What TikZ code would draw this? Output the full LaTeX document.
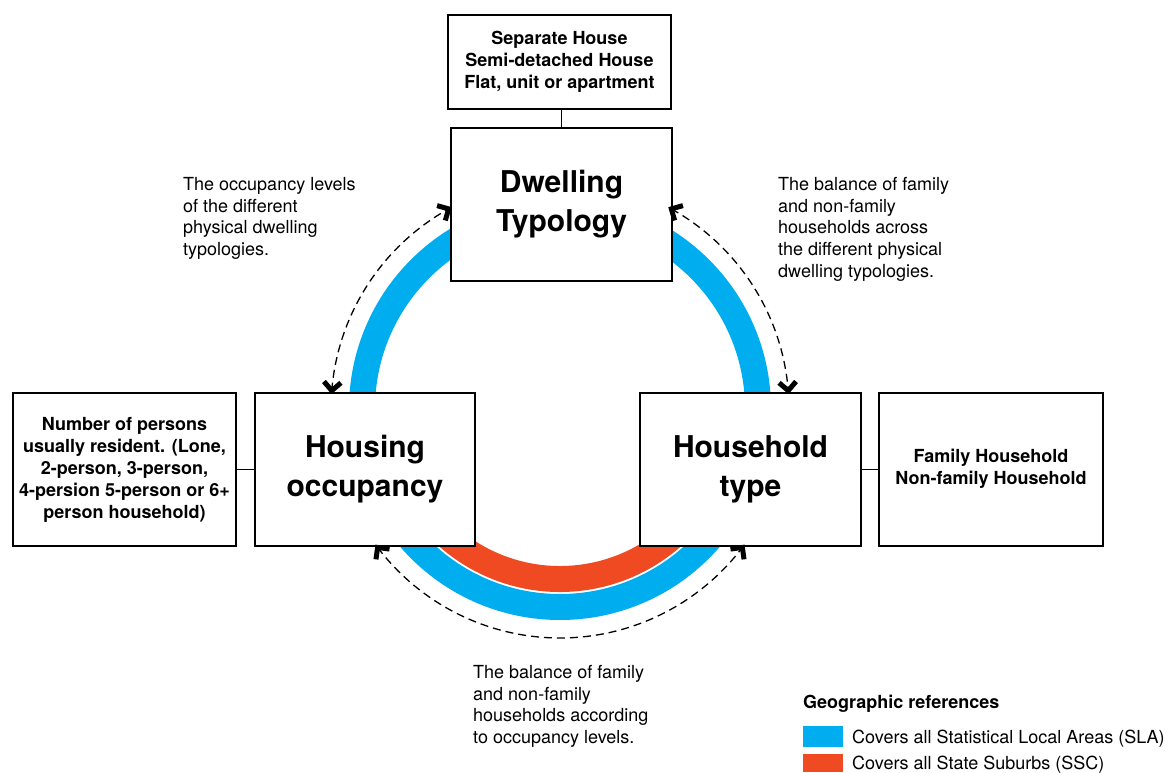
\documentclass[tikz,border=0pt]{standalone}
\usepackage{fontspec}
\setmainfont{TeX Gyre Heros}
\definecolor{slablue}{RGB}{0,174,239}
\definecolor{sscred}{RGB}{240,74,35}
\begin{document}
\begin{tikzpicture}[x=1pt,y=1pt,
  box/.style={draw=black, line width=1.3pt, fill=white, inner sep=0pt, align=center},
  bigtext/.style={font=\fontsize{30}{39}\selectfont\bfseries},
  smalltext/.style={font=\fontsize{18}{22}\selectfont\bfseries},
  note/.style={font=\fontsize{18}{21.7}\selectfont, align=left, inner sep=0pt, anchor=north west},
  legtext/.style={font=\fontsize{18}{22}\selectfont, inner sep=0pt, anchor=base west},
  swatch/.style={inner sep=0pt, minimum width=40pt, anchor=north west},
  link/.style={line width=1.2pt},
  ring/.style={line width=26pt},
  rel/.style={line width=1.3pt, dash pattern=on 8pt off 5pt},
  chevron/.style={line width=5pt, line cap=butt, line join=miter}
]
\useasboundingbox (0,0) rectangle (1168,772);
\coordinate (C) at (560,363);
% rings
\draw[slablue, ring] (C) circle[radius=198];
\path (C) ++(190:170) coordinate (r1);
\draw[sscred, ring] (r1) arc[start angle=190, end angle=350, radius=170];
% boxes
\node[box, smalltext, minimum width=223pt, minimum height=94pt] (types) at (559.5,710)
  {\raisebox{2pt}{\begin{tabular}{@{}c@{}}Separate House\\Semi-detached House\\Flat, unit or apartment\end{tabular}}};
\node[box, bigtext, minimum width=221pt, minimum height=153pt] (dwell) at (561.5,567.5)
  {Dwelling\\Typology};
\node[box, smalltext, minimum width=223pt, minimum height=153pt] (persons) at (124.5,302.5)
  {Number of persons\\usually resident. (Lone,\\2-person, 3-person,\\4-persion 5-person or 6+\\person household)};
\node[box, bigtext, minimum width=220pt, minimum height=153pt] (occ) at (365,302.5)
  {Housing\\occupancy};
\node[box, bigtext, minimum width=221pt, minimum height=153pt] (hh) at (750.5,302.5)
  {Household\\type};
\node[box, smalltext, minimum width=224pt, minimum height=153pt] (hhtypes) at (991,302.5)
  {\raisebox{4pt}{\begin{tabular}{@{}c@{}}Family Household\\Non-family Household\end{tabular}}};
% connectors
\draw[link] (dwell.north) -- (dwell.north |- types.south);
\draw[link] (persons.east) -- (occ.west);
\draw[link] (hh.east) -- (hhtypes.west);
% relation arcs (ends as named coordinates)
\path (C) ++(175.4:229) coordinate (a1s) (C) ++(119.1:229) coordinate (a1e);
\path (C) ++(60.9:229) coordinate (a2s) (C) ++(4.6:229) coordinate (a2e);
\path (C) ++(217.2:229) coordinate (a3s) (C) ++(322.8:229) coordinate (a3e);
\draw[rel] (a1s) arc[start angle=175.4, end angle=119.1, radius=229];
\draw[rel] (a2s) arc[start angle=60.9, end angle=4.6, radius=229];
\draw[rel] (a3s) arc[start angle=217.2, end angle=322.8, radius=229];
% arrow heads (open chevrons)
\draw[chevron, shift={(a1s)}, rotate=265.4] (-8.5,8.5) -- (0,0) -- (-8.5,-8.5);
\draw[chevron, shift={(a1e)}, rotate=29.1] (-8.5,8.5) -- (0,0) -- (-8.5,-8.5);
\draw[chevron, shift={(a2s)}, rotate=150.9] (-8.5,8.5) -- (0,0) -- (-8.5,-8.5);
\draw[chevron, shift={(a2e)}, rotate=-85.4] (-8.5,8.5) -- (0,0) -- (-8.5,-8.5);
\draw[chevron, shift={(a3s)}, rotate=127.2] (-8.5,8.5) -- (0,0) -- (-8.5,-8.5);
\draw[chevron, shift={(a3e)}, rotate=52.8] (-8.5,8.5) -- (0,0) -- (-8.5,-8.5);
% notes
\node[note] (n1) at (183,595) {The occupancy levels\\of the different\\physical dwelling\\typologies.};
\node[note] (n2) at (778,595) {The balance of family\\and non-family\\households across\\the different physical\\dwelling typologies.};
\node[note] (n3) at (473,107) {The balance of family\\and non-family\\households according\\to occupancy levels.};
% legend
\node[legtext, font=\fontsize{18}{22}\selectfont\bfseries] (legtitle) at (803,64) {Geographic references};
\node[swatch, fill=slablue, minimum height=21pt] (legblue) at (803,46) {};
\node[swatch, fill=sscred, minimum height=18pt] (legred) at (803,18) {};
\node[legtext] (legbluetxt) at (852,29) {Covers all Statistical Local Areas (SLA)};
\node[legtext] (legredtxt) at (852,3) {Covers all State Suburbs (SSC)};
\end{tikzpicture}
\end{document}
